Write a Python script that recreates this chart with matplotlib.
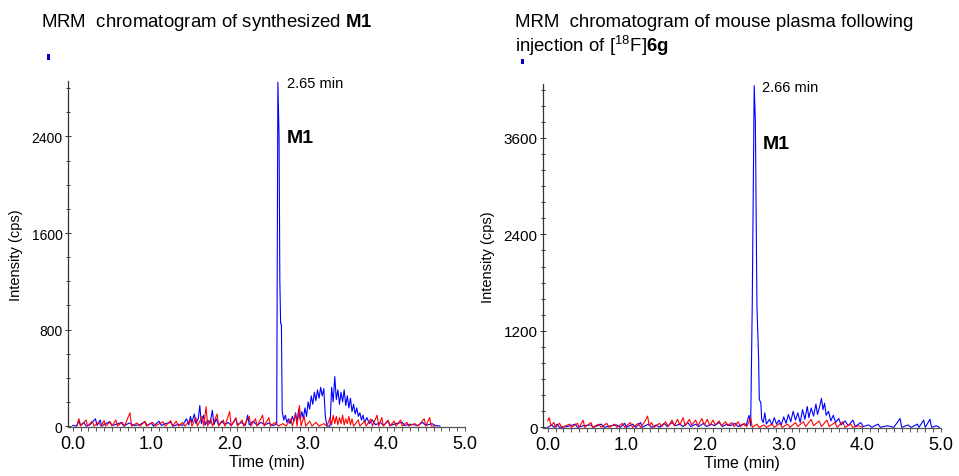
import matplotlib
matplotlib.use("Agg")
import matplotlib.pyplot as plt
from matplotlib.patches import Rectangle
from matplotlib.ticker import MultipleLocator

plt.rcParams['font.family'] = ['Liberation Sans', 'DejaVu Sans']
plt.rcParams['mathtext.fontset'] = 'custom'
plt.rcParams['mathtext.rm'] = 'Liberation Sans'
plt.rcParams['mathtext.bf'] = 'Liberation Sans:bold'

# ---- left panel: synthesized M1 ----
left_blue_t = [0.00, 0.05, 0.08, 0.10, 0.14, 0.17, 0.22, 0.29, 0.31, 0.35, 0.37, 0.42, 0.47, 0.50,
               0.56, 0.62, 0.65, 0.72, 0.78, 0.85, 0.92, 0.95, 1.00, 1.03, 1.10, 1.13, 1.18, 1.25,
               1.28, 1.35, 1.40, 1.45, 1.48, 1.50, 1.52, 1.55, 1.57, 1.60, 1.62, 1.64, 1.67, 1.69,
               1.72, 1.75, 1.78, 1.80, 1.83, 1.86, 1.90, 1.94, 1.98, 2.02, 2.08, 2.10, 2.15, 2.20,
               2.23, 2.25, 2.30, 2.35, 2.40, 2.45, 2.50, 2.55, 2.58, 2.60, 2.615, 2.63, 2.64, 2.65,
               2.66, 2.67, 2.69, 2.71, 2.73, 2.75, 2.77, 2.80, 2.82, 2.84, 2.86, 2.88, 2.90, 2.92,
               2.94, 2.96, 2.98, 3.00, 3.02, 3.04, 3.06, 3.08, 3.10, 3.12, 3.14, 3.16, 3.18, 3.20,
               3.22, 3.24, 3.26, 3.28, 3.30, 3.32, 3.34, 3.36, 3.38, 3.40, 3.42, 3.44, 3.46, 3.48,
               3.50, 3.52, 3.54, 3.56, 3.58, 3.60, 3.62, 3.64, 3.66, 3.68, 3.70, 3.72, 3.75, 3.78,
               3.82, 3.86, 3.92, 3.96, 4.02, 4.05, 4.12, 4.20, 4.23, 4.30, 4.40, 4.46, 4.50, 4.58,
               4.62, 4.68]
left_blue_v = [5, 0, 40, 5, 30, 0, 10, 60, 5, 50, 0, 20, 35, 5,
               15, 30, 0, 25, 5, 10, 35, 5, 25, 0, 40, 5, 20, 30,
               0, 15, 5, 60, 10, 80, 30, 100, 20, 60, 170, 20, 90, 10,
               50, 20, 130, 10, 60, 5, 40, 10, 30, 5, 60, 10, 30, 5,
               90, 10, 40, 5, 30, 10, 25, 5, 10, 20, 2850, 2400, 1200, 850,
               840, 120, 50, 90, 30, 60, 20, 80, 40, 110, 30, 140, 50, 120,
               60, 150, 80, 200, 140, 250, 180, 280, 210, 300, 230, 320, 250, 310,
               80, 0, 0, 0, 320, 200, 410, 220, 300, 180, 280, 200, 300, 170,
               250, 150, 230, 120, 180, 100, 150, 80, 110, 50, 90, 30, 70, 20,
               50, 10, 30, 5, 40, 5, 20, 30, 5, 15, 5, 30, 5, 20,
               5, 0]

left_red_t = [0.05, 0.08, 0.10, 0.17, 0.19, 0.25, 0.27, 0.33, 0.36, 0.40, 0.42, 0.48, 0.50, 0.55,
              0.57, 0.63, 0.66, 0.73, 0.75, 0.82, 0.86, 0.92, 0.94, 1.02, 1.05, 1.15, 1.18, 1.25,
              1.27, 1.32, 1.35, 1.40, 1.43, 1.50, 1.52, 1.57, 1.59, 1.65, 1.67, 1.70, 1.72, 1.76,
              1.78, 1.84, 1.86, 1.92, 1.94, 2.00, 2.02, 2.08, 2.10, 2.16, 2.18, 2.25, 2.27, 2.33,
              2.35, 2.42, 2.44, 2.50, 2.52, 2.58, 2.62, 2.68, 2.72, 2.78, 2.80, 2.84, 2.86, 2.89,
              2.91, 2.95, 2.97, 3.02, 3.05, 3.10, 3.14, 3.20, 3.24, 3.28, 3.30, 3.32, 3.34, 3.36,
              3.38, 3.40, 3.42, 3.44, 3.46, 3.48, 3.50, 3.52, 3.54, 3.56, 3.58, 3.64, 3.66, 3.72,
              3.74, 3.80, 3.82, 3.88, 3.90, 3.94, 3.96, 4.02, 4.04, 4.10, 4.12, 4.18, 4.20, 4.26,
              4.28, 4.36, 4.40, 4.48, 4.50, 4.55, 4.57, 4.62]
left_red_v = [0, 60, 0, 50, 0, 40, 0, 30, 0, 45, 0, 35, 0, 50,
              0, 30, 0, 110, 0, 25, 0, 40, 0, 30, 0, 35, 0, 45,
              0, 40, 0, 30, 0, 50, 0, 70, 0, 80, 0, 160, 0, 60,
              0, 100, 0, 50, 0, 120, 0, 70, 0, 50, 0, 80, 0, 60,
              0, 90, 0, 70, 0, 30, 0, 20, 0, 60, 0, 100, 0, 170,
              0, 80, 0, 40, 0, 30, 0, 20, 0, 70, 10, 90, 20, 80,
              10, 70, 20, 90, 10, 60, 20, 80, 10, 60, 0, 50, 0, 40,
              0, 60, 0, 90, 0, 70, 0, 50, 0, 40, 0, 50, 0, 30,
              0, 20, 0, 60, 0, 70, 0, 0]

# ---- right panel: mouse plasma ----
right_blue_t = [0.00, 0.05, 0.08, 0.12, 0.15, 0.25, 0.35, 0.38, 0.45, 0.55, 0.58, 0.68, 0.72, 0.80,
                0.88, 0.92, 0.98, 1.00, 1.08, 1.12, 1.18, 1.20, 1.28, 1.32, 1.38, 1.42, 1.48, 1.52,
                1.58, 1.62, 1.68, 1.72, 1.78, 1.82, 1.88, 1.92, 1.98, 2.02, 2.08, 2.12, 2.18, 2.22,
                2.28, 2.32, 2.38, 2.42, 2.48, 2.52, 2.56, 2.58, 2.60, 2.625, 2.64, 2.66, 2.68, 2.69,
                2.71, 2.72, 2.74, 2.76, 2.78, 2.82, 2.85, 2.88, 2.91, 2.94, 2.97, 3.00, 3.03, 3.06,
                3.09, 3.12, 3.15, 3.18, 3.21, 3.24, 3.27, 3.30, 3.32, 3.35, 3.38, 3.41, 3.43, 3.46,
                3.48, 3.50, 3.52, 3.54, 3.57, 3.60, 3.63, 3.66, 3.70, 3.73, 3.78, 3.82, 3.88, 3.91,
                3.98, 4.01, 4.08, 4.12, 4.20, 4.23, 4.32, 4.40, 4.48, 4.50, 4.58, 4.62, 4.70, 4.72,
                4.78, 4.80, 4.86, 4.88, 4.94, 4.98]
right_blue_v = [0, 30, 0, 40, 0, 10, 40, 0, 20, 30, 0, 40, 0, 20,
                30, 0, 50, 0, 40, 0, 60, 0, 40, 0, 30, 0, 50, 10,
                60, 20, 40, 10, 60, 10, 40, 10, 50, 10, 40, 20, 60, 10,
                40, 20, 50, 10, 40, 20, 150, 20, 1500, 4250, 3800, 1500, 900, 350,
                300, 100, 60, 180, 40, 100, 30, 120, 40, 90, 30, 130, 50, 160,
                70, 200, 90, 180, 60, 220, 100, 260, 120, 240, 140, 290, 160, 270,
                360, 220, 300, 150, 200, 80, 150, 60, 110, 30, 80, 20, 90, 10,
                60, 10, 30, 0, 40, 0, 20, 0, 110, 0, 30, 0, 40, 0,
                90, 0, 100, 0, 20, 0]

right_red_t = [0.00, 0.02, 0.04, 0.08, 0.10, 0.15, 0.18, 0.28, 0.30, 0.38, 0.40, 0.45, 0.47, 0.55,
               0.57, 0.65, 0.68, 0.75, 0.78, 0.85, 0.88, 0.95, 0.98, 1.05, 1.08, 1.15, 1.18, 1.24,
               1.27, 1.29, 1.32, 1.35, 1.42, 1.45, 1.50, 1.53, 1.58, 1.61, 1.65, 1.68, 1.72, 1.75,
               1.80, 1.83, 1.88, 1.91, 1.96, 1.99, 2.03, 2.06, 2.10, 2.13, 2.18, 2.21, 2.26, 2.29,
               2.34, 2.37, 2.42, 2.45, 2.50, 2.53, 2.58, 2.60, 2.66, 2.69, 2.75, 2.78, 2.85, 2.88,
               2.95, 2.98, 3.05, 3.08, 3.15, 3.18, 3.25, 3.28, 3.35, 3.38, 3.45, 3.48, 3.55, 3.58,
               3.65, 3.68, 3.75, 3.78, 3.85, 3.88, 3.95, 4.00]
right_red_v = [80, 120, 20, 60, 0, 50, 0, 40, 0, 50, 0, 90, 0, 60,
               0, 40, 0, 50, 0, 40, 0, 50, 0, 60, 0, 50, 0, 80,
               140, 20, 60, 0, 50, 10, 70, 10, 90, 20, 100, 30, 120, 20,
               100, 30, 90, 20, 110, 30, 100, 20, 90, 30, 80, 20, 70, 20,
               60, 10, 70, 10, 50, 10, 120, 0, 40, 0, 30, 0, 40, 0,
               50, 0, 40, 0, 60, 10, 70, 10, 100, 20, 80, 10, 90, 10,
               60, 0, 70, 0, 40, 0, 20, 0]

BLUE = '#0000ff'
RED = '#ff0000'
W, H = 959, 477


def fx(px):
    return px / W


def fy(py):
    return 1 - py / H


fig = plt.figure(figsize=(9.59, 4.77), dpi=100)

panels = [
    dict(box=(68, 82, 465, 428), blue=(left_blue_t, left_blue_v), red=(left_red_t, left_red_v),
         ymax=2860, major=800, tickfs=10),
    dict(box=(543, 85, 941, 429), blue=(right_blue_t, right_blue_v), red=(right_red_t, right_red_v),
         ymax=4270, major=1200, tickfs=11),
]

for p in panels:
    x0, y0, x1, y1 = p['box']
    ax = fig.add_axes([fx(x0), fy(y1), (x1 - x0) / W, (y1 - y0) / H])
    ax.plot(p['blue'][0], p['blue'][1], color=BLUE, lw=0.8)
    ax.plot(p['red'][0], p['red'][1], color=RED, lw=0.8)
    ax.set_xlim(-0.06, 5.0)
    ax.set_ylim(-8, p['ymax'])
    ax.xaxis.set_major_locator(MultipleLocator(1.0))
    ax.xaxis.set_minor_locator(MultipleLocator(0.1))
    ax.yaxis.set_major_locator(MultipleLocator(p['major']))
    ax.yaxis.set_minor_locator(MultipleLocator(200))
    ax.xaxis.set_major_formatter(plt.FormatStrFormatter('%.1f'))
    for s in ['top', 'right']:
        ax.spines[s].set_visible(False)
    ax.spines['left'].set_color('#333333')
    ax.spines['bottom'].set_color('#555555')
    ax.spines['left'].set_linewidth(0.9)
    ax.spines['bottom'].set_linewidth(0.9)
    ax.tick_params(axis='x', which='both', length=3, width=0.7, color='#555555',
                   labelsize=13, pad=3)
    ax.tick_params(axis='y', which='major', length=4, width=0.7, direction='inout',
                   color='#333333', labelsize=p['tickfs'], pad=2)
    ax.tick_params(axis='y', which='minor', length=3, width=0.7, direction='inout',
                   color='#333333')
    ax.set_xlabel('Time (min)', fontsize=11.5, labelpad=1)
    ax.set_ylabel('Intensity (cps)', fontsize=10.5, labelpad=6)

# titles
fig.text(fx(41), fy(26.7), r'MRM  chromatogram of synthesized $\mathbf{M1}$',
         fontsize=13.4, va='baseline', ha='left')
fig.text(fx(515), fy(26.7), 'MRM  chromatogram of mouse plasma following',
         fontsize=13.4, va='baseline', ha='left')
fig.text(fx(515), fy(52), r'injection of [$^{\mathrm{18}}$F]$\mathbf{6g}$',
         fontsize=13.4, va='baseline', ha='left')

# peak annotations
fig.text(fx(287), fy(88), '2.65 min', fontsize=10.5, va='baseline', ha='left')
fig.text(fx(287), fy(143), 'M1', fontsize=14, fontweight='bold', va='baseline', ha='left')
fig.text(fx(762), fy(91.5), '2.66 min', fontsize=10.5, va='baseline', ha='left')
fig.text(fx(763), fy(149), 'M1', fontsize=14, fontweight='bold', va='baseline', ha='left')

# small blue marks under titles
for (mx, my) in [(46.5, 55), (520.5, 59.5)]:
    fig.add_artist(Rectangle((fx(mx), fy(my + 5.5)), 3.5 / W, 5.5 / H,
                             transform=fig.transFigure, color='#0000cc', lw=0))

fig.savefig('out.png', dpi=100)
